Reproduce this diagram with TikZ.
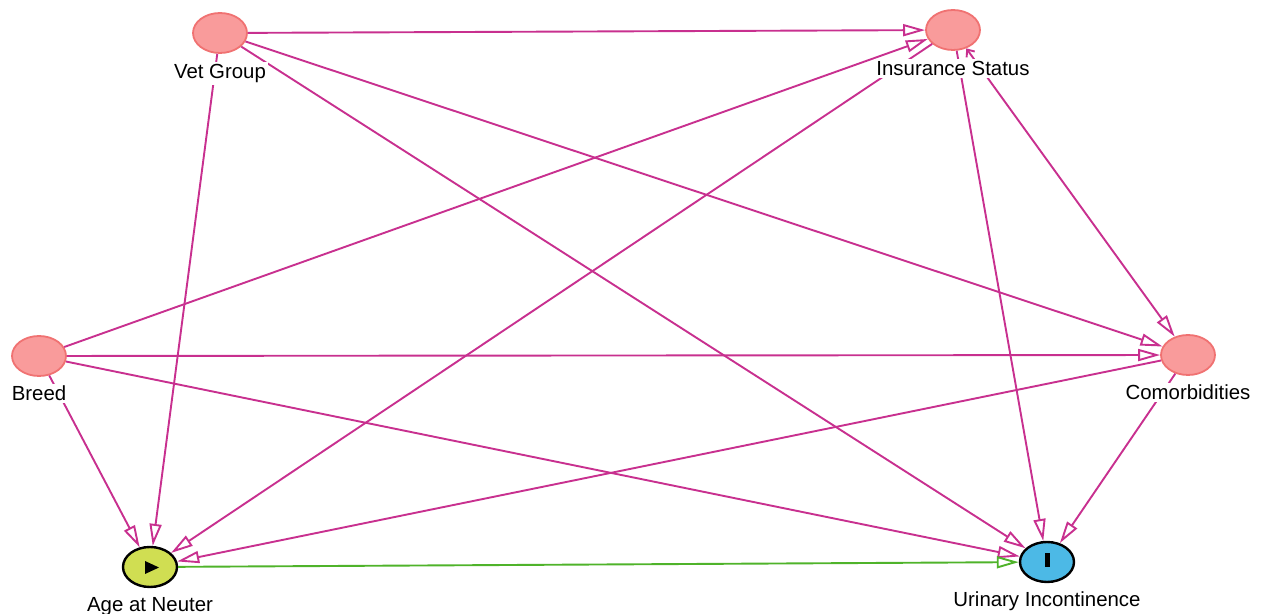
\documentclass[tikz,border=0pt]{standalone}
\usepackage{fontspec}
\setmainfont{Liberation Sans}
\usepackage{tikz}
\usetikzlibrary{arrows.meta,positioning,calc,shapes.geometric}
\definecolor{edgepink}{HTML}{C8308F}
\definecolor{edgegreen}{HTML}{4FB32A}
\definecolor{covfill}{HTML}{F99B9B}
\definecolor{covline}{HTML}{F07272}
\definecolor{expfill}{HTML}{D0DE52}
\definecolor{outfill}{HTML}{4CB9E6}

\begin{document}
\begin{tikzpicture}[
  x=0.5pt, y=-0.5pt,
  var/.style={ellipse, inner sep=0pt, minimum width=27pt, minimum height=20pt},
  cov/.style={var, draw=covline, fill=covfill, line width=0.9pt},
  expo/.style={var, draw=black, fill=expfill, line width=1.2pt},
  outc/.style={var, draw=black, fill=outfill, line width=1.2pt},
  lbl/.style={fill=white, inner sep=1pt, font=\fontsize{10.2}{12}\selectfont},
  arrow/.style={-{Triangle[open, length=11pt, width=6pt]}, line width=0.95pt, draw=edgepink},
  causal/.style={arrow, draw=edgegreen}
]
\useasboundingbox (0,0) rectangle (1266,614);

\node[cov] (vet) at (220,33) {};
\node[cov] (insur) at (953,30) {};
\node[cov] (breed) at (39,356) {};
\node[cov] (comorb) at (1188,355) {};
\node[expo] (age) at (150,567) {};
\node[outc] (uri) at (1047,562) {};

\fill ($(age)+(-5,-6)$) -- ($(age)+(-5,7)$) -- ($(age)+(9,0.5)$) -- cycle;
\fill ($(uri)+(-2.5,-9)$) rectangle ($(uri)+(2.5,5)$);

\draw[arrow] (vet) -- (insur);
\draw[arrow] (vet) -- (age);
\draw[arrow] (vet) -- (comorb);
\draw[arrow] (vet) -- (uri);
\draw[arrow] (breed) -- (insur);
\draw[arrow] (breed) -- (comorb);
\draw[arrow] (breed) -- (age);
\draw[arrow] (breed) -- (uri);
\draw[arrow, {Straight Barb[length=3pt, width=5pt]}-{Triangle[open, length=11pt, width=6pt]}] (insur) -- (comorb);
\draw[arrow] (insur) -- (age);
\draw[arrow] (insur) -- (uri);
\draw[arrow] (comorb) -- (age);
\draw[arrow] (comorb) -- (uri);
\draw[causal] (age) -- (uri);

\node[lbl, below=4pt of vet] (vetlbl) {Vet Group};
\node[lbl, below=4pt of insur] (insurlbl) {Insurance Status};
\node[lbl, below=3.3pt of breed] (breedlbl) {Breed};
\node[lbl, below=3.3pt of comorb] (comorblbl) {Comorbidities};
\node[lbl, below=3.3pt of age] (agelbl) {Age at Neuter};
\node[lbl, below=3.3pt of uri] (urilbl) {Urinary Incontinence};
\end{tikzpicture}
\end{document}
